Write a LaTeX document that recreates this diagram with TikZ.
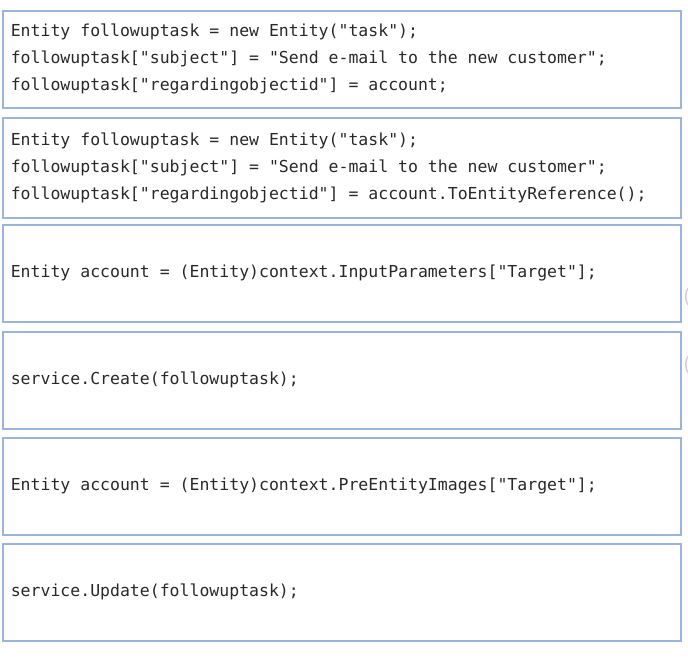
\documentclass[tikz,border=0pt]{standalone}
\usepackage{fontspec}
\usepackage{tikz}
\newfontfamily\codefont{DejaVu Sans Mono}
\definecolor{boxblue}{RGB}{155,180,222}
\definecolor{codegray}{RGB}{40,40,40}
\tikzset{codebox/.style={draw=boxblue, line width=1.6pt, rectangle, anchor=north west,
  minimum width=678pt, minimum height=97pt, text width=662pt, inner xsep=8pt,
  align=flush left, text=codegray, font=\codefont\fontsize{16.5}{27}\selectfont}}

\begin{document}
\begin{tikzpicture}[x=1pt,y=1pt]
\useasboundingbox (0,0) rectangle (688,-660);
% box pitch ~ 106.6pt
\node[codebox] (taskA) at (2,-10) {Entity followuptask = new Entity("task");\\
followuptask["subject"] = "Send e-mail to the new customer";\\
followuptask["regardingobjectid"] = account;};
\node[codebox, minimum height=100pt] (taskB) at (2,-117) {Entity followuptask = new Entity("task");\\
followuptask["subject"] = "Send e-mail to the new customer";\\
followuptask["regardingobjectid"] = account.ToEntityReference();};
\node[codebox] (input) at (2,-224) {Entity account = (Entity)context.InputParameters["Target"];};
\node[codebox] (create) at (2,-331) {service.Create(followuptask);};
\node[codebox] (preimg) at (2,-437) {Entity account = (Entity)context.PreEntityImages["Target"];};
\node[codebox] (update) at (2,-543) {service.Update(followuptask);};
% faint marks at the right edge
\draw[gray!35, line width=1.5pt] (688,-288) .. controls (685,-292) and (685,-301) .. (688,-305);
\draw[gray!35, line width=1.5pt] (688,-356) .. controls (685,-361) and (685,-368) .. (688,-373);
\end{tikzpicture}
\end{document}
